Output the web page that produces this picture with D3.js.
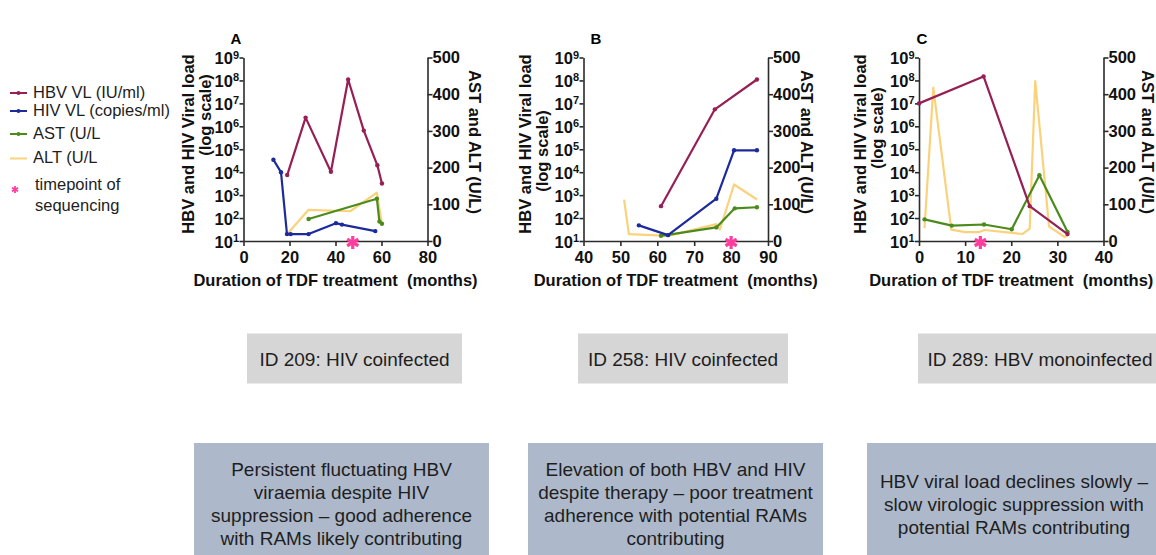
<!DOCTYPE html>
<html>
<head>
<meta charset="utf-8">
<script src="https://cdn.jsdelivr.net/npm/d3@7"></script>
<style>
body { margin: 0; background: #fff; }
svg { display: block; font-family: "Liberation Sans", Arial, Helvetica, sans-serif; }
</style>
</head>
<body>
<div id="chart"></div>
<script>
// ---------------------------//
//            DATA            //
// ---------------------------//
// [month on TDF, value]  viral loads in IU/ml or copies/ml, AST/ALT in U/L
const hbvA = [[19, 7.5e3], [27, 2.4e6], [38, 1.05e4], [45.5, 1.1e8], [52.3, 6.5e5], [58.2, 2e4], [60.2, 3.2e3]];
const hivA = [[13, 3.5e4], [16.3, 1e4], [18.9, 20], [20.5, 20], [28.3, 20], [40.2, 60], [42.8, 52], [57.3, 27]];
const astA = [[28.3, 60], [58, 115], [59.1, 53], [60.2, 47]];
const altA = [[19.1, 20], [28.3, 85], [46.4, 81], [58, 132], [60.2, 45]];

const hbvB = [[61, 330], [75.6, 5.5e6], [87, 1.1e8]];
const hivB = [[55, 48], [62.9, 18], [76, 700], [80.8, 9e4], [87, 9e4]];
const astB = [[61, 14], [76, 37], [81, 89], [87, 92]];
const altB = [[51, 113], [52.3, 19], [63, 14], [76, 46], [77, 32], [80.8, 154], [87, 113]];

const hbvC = [[0, 1e7], [14, 1.5e8], [24, 330], [32.2, 20]];
const hivC = [];
const astC = [[1.2, 59], [7.1, 42], [14.1, 45], [20.1, 32], [26.1, 179], [32.2, 25]];
const altC = [[1.2, 35], [3.1, 418], [7, 31], [10, 24], [13, 24], [14.2, 30], [20.2, 22], [22.4, 19], [24, 34], [25.2, 436], [28.2, 39], [31.6, 11], [32.3, 16]];

const seqTimes = [47.5, 80, 13.3];          // timepoint of sequencing per panel
const panelLetters = ["A", "B", "C"];
const xDomains = [[0, 80], [40, 90], [0, 40]];
const xTicks = [[0, 20, 40, 60, 80], [40, 50, 60, 70, 80, 90], [0, 10, 20, 30, 40]];
const logTicks = [1e1, 1e2, 1e3, 1e4, 1e5, 1e6, 1e7, 1e8, 1e9];
const enzymeTicks = [0, 100, 200, 300, 400, 500];

const idLabels = ["ID 209: HIV coinfected", "ID 258: HIV coinfected", "ID 289: HBV monoinfected"];
const notes = [
    ["Persistent fluctuating HBV", "viraemia despite HIV", "suppression \u2013 good adherence", "with RAMs likely contributing"],
    ["Elevation of both HBV and HIV", "despite therapy \u2013 poor treatment", "adherence with potential RAMs", "contributing"],
    ["HBV viral load declines slowly \u2013", "slow virologic suppression with", "potential RAMs contributing"]
];

const legendItems = ["HBV VL (IU/ml)", "HIV VL (copies/ml)", "AST (U/L", "ALT (U/L"];

// ---------------------------//
//           LAYOUT           //
// ---------------------------//
const WIDTH = 1156, HEIGHT = 555;
const Y_TOP = 57.5, Y_BOT = 241;
const COLORS = { hbv: "#961f54", hiv: "#1c2a9c", ast: "#4b8b1c", alt: "#fbd27c", star: "#ff3d9e", axis: "#2b2b2b" };

const layout = [
    { x0: 243.5, x1: 427.5, letterX: 236, lab1X: 188, lab2X: 205, lab2Y: 115, rightX: 475,
      gray: [247, 462], blue: [194, 489] },
    { x0: 583.5, x1: 768, letterX: 596, lab1X: 525, lab2X: 542, lab2Y: 151, rightX: 807,
      gray: [578, 788], blue: [528, 823] },
    { x0: 919, x1: 1103.5, letterX: 922, lab1X: 860, lab2X: 877, lab2Y: 128, rightX: 1148,
      gray: [918, 1162], blue: [867, 1161] }
];

const series = [
    { hbv: hbvA, hiv: hivA, ast: astA, alt: altA },
    { hbv: hbvB, hiv: hivB, ast: astB, alt: altB },
    { hbv: hbvC, hiv: hivC, ast: astC, alt: altC }
];

const svg = d3.select("#chart").append("svg")
    .attr("width", WIDTH)
    .attr("height", HEIGHT);

svg.append("rect").attr("width", WIDTH).attr("height", HEIGHT).attr("fill", "#fff");

const yLog = d3.scaleLog().domain([10, 1e9]).range([Y_BOT, Y_TOP]);
const yLin = d3.scaleLinear().domain([0, 500]).range([Y_BOT, Y_TOP]);

// asterisk made of three strokes
function asterisk(g, cx, cy, r, w) {
    [90, 30, -30].forEach(a => {
        const t = a * Math.PI / 180;
        g.append("line")
            .attr("x1", cx - r * Math.cos(t)).attr("y1", cy - r * Math.sin(t))
            .attr("x2", cx + r * Math.cos(t)).attr("y2", cy + r * Math.sin(t))
            .attr("stroke", COLORS.star).attr("stroke-width", w);
    });
}

// ---------------------------//
//         DRAW PANELS        //
// ---------------------------//
layout.forEach((L, i) => {
    const g = svg.append("g");
    const x = d3.scaleLinear().domain(xDomains[i]).range([L.x0, L.x1]);
    const s = series[i];

    // panel letter
    g.append("text")
        .attr("x", L.letterX).attr("y", 44)
        .attr("text-anchor", "middle")
        .attr("font-weight", "bold").attr("font-size", 15)
        .text(panelLetters[i]);

    // left axis (log)
    const left = g.append("g")
        .attr("transform", `translate(${L.x0},0)`)
        .call(d3.axisLeft(yLog).tickValues(logTicks).tickSize(4).tickSizeOuter(0).tickFormat(() => ""));
    left.selectAll(".tick text").remove();
    left.selectAll(".tick").append("text")
        .attr("x", -4.5).attr("y", 6)
        .attr("text-anchor", "end")
        .attr("fill", "#111")
        .attr("font-weight", "bold").attr("font-size", 16.5)
        .each(function(d) {
            const t = d3.select(this);
            t.append("tspan").text("10");
            t.append("tspan").attr("dy", -5.5).attr("font-size", 11).text(Math.round(Math.log10(d)));
        });

    // right axis (linear)
    const right = g.append("g")
        .attr("transform", `translate(${L.x1},0)`)
        .call(d3.axisRight(yLin).tickValues(enzymeTicks).tickSize(5).tickSizeOuter(0));
    right.selectAll(".tick text")
        .attr("x", 5)
        .attr("fill", "#111")
        .attr("font-weight", "bold").attr("font-size", 16.5)
        .attr("font-family", null);

    // bottom axis
    const bottom = g.append("g")
        .attr("transform", `translate(0,${Y_BOT})`)
        .call(d3.axisBottom(x).tickValues(xTicks[i]).tickSize(5).tickSizeOuter(0));
    bottom.selectAll(".tick text")
        .attr("y", 10)
        .attr("fill", "#111")
        .attr("font-weight", "bold").attr("font-size", 16.5)
        .attr("font-family", null);

    [left, right, bottom].forEach(a => {
        a.attr("font-family", null).attr("font-size", null);
        a.select(".domain").attr("stroke", COLORS.axis).attr("stroke-width", 1.6);
        a.selectAll(".tick line").attr("stroke", COLORS.axis).attr("stroke-width", 1.6);
    });

    // axis titles
    g.append("text")
        .attr("transform", `translate(${L.lab1X},144) rotate(-90)`)
        .attr("text-anchor", "middle").attr("dominant-baseline", "central")
        .attr("font-weight", "bold").attr("font-size", 16.5).attr("fill", "#111")
        .text("HBV and HIV Viral load");
    g.append("text")
        .attr("transform", `translate(${L.lab2X},${L.lab2Y}) rotate(-90)`)
        .attr("text-anchor", "middle").attr("dominant-baseline", "central")
        .attr("font-weight", "bold").attr("font-size", 16.5).attr("fill", "#111")
        .text("(log scale)");
    g.append("text")
        .attr("transform", `translate(${L.rightX},142) rotate(90)`)
        .attr("text-anchor", "middle").attr("dominant-baseline", "central")
        .attr("font-weight", "bold").attr("font-size", 16.5).attr("fill", "#111")
        .text("AST and ALT (U/L)");
    g.append("text")
        .attr("x", (L.x0 + L.x1) / 2).attr("y", 286)
        .attr("text-anchor", "middle")
        .style("white-space", "pre")
        .attr("font-weight", "bold").attr("font-size", 16.5).attr("fill", "#111")
        .text("Duration of TDF treatment  (months)");

    // lines
    const lineLog = d3.line().x(d => x(d[0])).y(d => yLog(d[1]));
    const lineLin = d3.line().x(d => x(d[0])).y(d => yLin(d[1]));
    const defs = [
        { key: "alt", data: s.alt, gen: lineLin, y: yLin, dots: false },
        { key: "ast", data: s.ast, gen: lineLin, y: yLin, dots: true },
        { key: "hiv", data: s.hiv, gen: lineLog, y: yLog, dots: true },
        { key: "hbv", data: s.hbv, gen: lineLog, y: yLog, dots: true }
    ];
    defs.forEach(def => {
        if (!def.data.length) return;
        g.append("path")
            .datum(def.data)
            .attr("d", def.gen)
            .attr("fill", "none")
            .attr("stroke", COLORS[def.key])
            .attr("stroke-width", 2.2)
            .attr("stroke-linejoin", "round");
        if (def.dots) {
            g.selectAll(null).data(def.data).enter().append("circle")
                .attr("cx", d => x(d[0]))
                .attr("cy", d => def.y(d[1]))
                .attr("r", 2.2)
                .attr("fill", COLORS[def.key]);
        }
    });

    // sequencing timepoint
    asterisk(g, x(seqTimes[i]), Y_BOT + 1.5, 6.5, 3.2);

    // boxes
    g.append("rect")
        .attr("x", L.gray[0]).attr("y", 333.5)
        .attr("width", L.gray[1] - L.gray[0]).attr("height", 50)
        .attr("fill", "#d6d6d6");
    g.append("text")
        .attr("x", (L.gray[0] + L.gray[1]) / 2).attr("y", 366)
        .attr("text-anchor", "middle")
        .attr("font-size", 19).attr("fill", "#1e1e1e")
        .text(idLabels[i]);

    g.append("rect")
        .attr("x", L.blue[0]).attr("y", 443)
        .attr("width", L.blue[1] - L.blue[0]).attr("height", 130)
        .attr("fill", "#adb9cb");
    const n = notes[i].length;
    g.selectAll(null).data(notes[i]).enter().append("text")
        .attr("x", (L.blue[0] + L.blue[1]) / 2)
        .attr("y", (d, k) => 510.5 + (k - (n - 1) / 2) * 23)
        .attr("text-anchor", "middle")
        .attr("font-size", 19).attr("fill", "#1e1e1e")
        .text(d => d);
});

// ---------------------------//
//           LEGEND           //
// ---------------------------//
const legend = svg.append("g");
const legendKeys = ["hbv", "hiv", "ast", "alt"];
const legendBase = [97.5, 115.5, 138.5, 163];
legendItems.forEach((label, k) => {
    const yy = legendBase[k] - 4.5;
    legend.append("line")
        .attr("x1", 10).attr("x2", 27).attr("y1", yy).attr("y2", yy)
        .attr("stroke", COLORS[legendKeys[k]]).attr("stroke-width", 2);
    if (k < 3) {
        legend.append("circle").attr("cx", 18.5).attr("cy", yy).attr("r", 2)
            .attr("fill", COLORS[legendKeys[k]]);
    }
    legend.append("text")
        .attr("x", 33).attr("y", legendBase[k])
        .attr("font-size", 16.5).attr("fill", "#1e1e1e")
        .text(label);
});
asterisk(legend, 15, 189.5, 3.6, 1.8);
legend.append("text").attr("x", 35).attr("y", 190).attr("font-size", 16.5).attr("fill", "#1e1e1e").text("timepoint of");
legend.append("text").attr("x", 35).attr("y", 211).attr("font-size", 16.5).attr("fill", "#1e1e1e").text("sequencing");
</script>
</body>
</html>
